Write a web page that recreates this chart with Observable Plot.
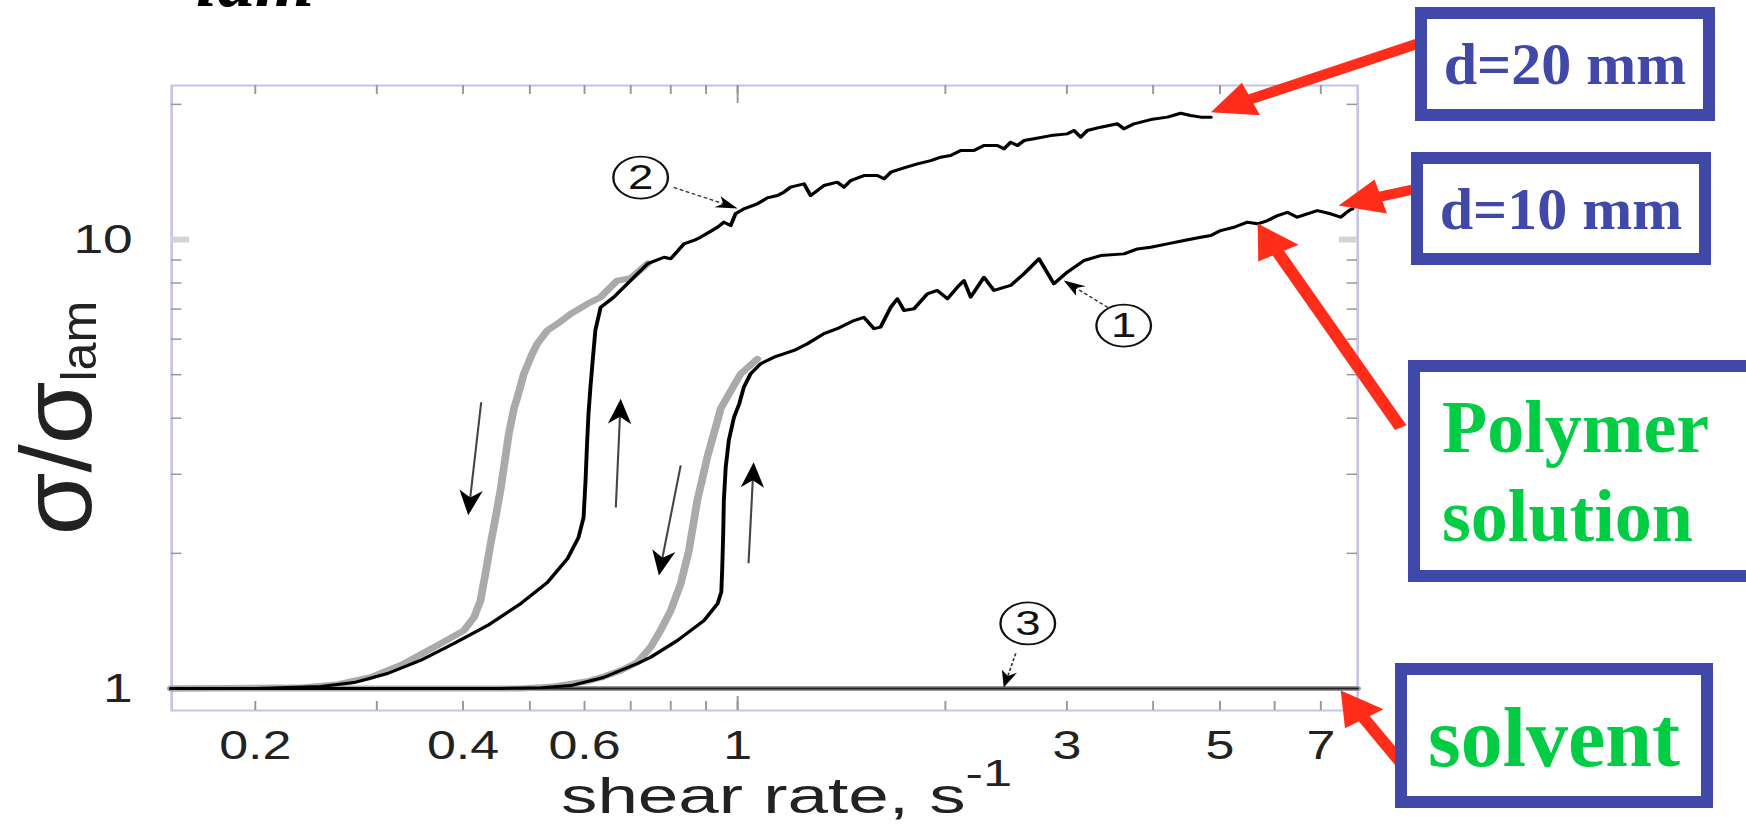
<!DOCTYPE html>
<html><head><meta charset="utf-8">
<script src="https://cdn.jsdelivr.net/npm/d3@7"></script>
<script src="https://cdn.jsdelivr.net/npm/@observablehq/plot@0.6"></script>
<style>
html,body{margin:0;padding:0;background:#fff;}
#wrap{position:relative;width:1746px;height:824px;overflow:hidden;background:#fff;}
#chart svg{display:block;}
.box{position:absolute;box-sizing:border-box;border:12px solid #4048a8;background:#fff;
 font-family:"Liberation Serif","Times New Roman",serif;font-weight:bold;white-space:nowrap;}
.blue{color:#4048a8;font-size:60px;line-height:60px;display:flex;align-items:center;justify-content:center;}
.green{color:#00cc44;}
#lam{position:absolute;left:196px;top:-58px;font:italic bold 76px/76px "Liberation Serif",serif;color:#000;}
</style></head><body>
<div id="wrap">
  <div id="chart"></div>
  <div id="lam">lam</div>
  <div class="box blue" style="left:1415px;top:7px;width:300px;height:114px;">d=20 mm</div>
  <div class="box blue" style="left:1411px;top:152px;width:300px;height:113px;">d=10 mm</div>
  <div class="box green" style="left:1408px;top:360px;width:370px;height:222px;padding:11px 0 0 22px;font-size:74px;line-height:89px;">Polymer<br>solution</div>
  <div class="box green" style="left:1395px;top:663px;width:318px;height:145px;padding:21px 0 0 21px;font-size:84px;line-height:84px;">solvent</div>
</div>
<script>
// ---------------- data ----------------
const xDomain = [0.1513, 7.915];
const yDomain = [0.8933, 22.03];
const xTicks = [0.2,0.3,0.4,0.5,0.6,0.7,0.8,0.9,1,2,3,4,5,6,7];
const xTickLabels = [0.2,0.4,0.6,1,3,5,7];
const yTicks = [2,3,4,5,6,7,8,9,20];
const yTickLabels = [1,10];

// curve 2 (d = 20 mm): increasing shear rate (black) and decreasing (gray)
const curve2Up = [[0.151,1.0],[0.20,1.0],[0.249,1.01],[0.278,1.031],[0.311,1.08],[0.347,1.155],[0.388,1.259],[0.434,1.381],[0.485,1.546],[0.530,1.722],[0.567,1.948],[0.588,2.169],[0.598,2.40],[0.602,2.90],[0.605,3.5],[0.608,4.10],[0.612,4.7],[0.616,5.29],[0.622,6.27],[0.633,7.06],[0.661,7.43],[0.700,8.11],[0.741,8.84],[0.782,9.13],[0.800,9.06],[0.836,9.78],[0.864,9.95],[0.884,10.12],[0.909,10.38],[0.935,10.65],[0.955,10.93],[0.977,10.74],[0.993,11.41],[1.021,11.70],[1.068,12.01],[1.104,12.38],[1.142,12.53],[1.167,12.75],[1.193,13.08],[1.248,13.30],[1.276,12.53],[1.305,12.86],[1.334,13.19],[1.394,13.42],[1.426,13.08],[1.458,13.53],[1.524,13.88],[1.594,13.88],[1.630,13.65],[1.667,14.12],[1.742,14.44],[1.822,14.74],[1.905,14.99],[1.969,15.25],[2.035,15.38],[2.105,15.78],[2.200,15.78],[2.275,16.19],[2.379,16.19],[2.432,15.92],[2.487,16.47],[2.543,16.19],[2.600,16.61],[2.688,16.76],[2.842,17.04],[3.005,17.19],[3.072,17.49],[3.141,16.90],[3.212,17.49],[3.358,17.79],[3.551,18.10],[3.630,17.64],[3.753,18.10],[3.968,18.5],[4.195,18.73],[4.385,19.11],[4.533,18.89],[4.69,18.73],[4.85,18.73]];
const curve2Down = [[0.741,8.84],[0.700,8.2],[0.669,8.10],[0.633,7.44],[0.606,7.19],[0.573,6.83],[0.548,6.49],[0.530,6.27],[0.5125,5.86],[0.504,5.57],[0.490,5.02],[0.4795,4.45],[0.474,4.2],[0.466,3.69],[0.4585,3.11],[0.453,2.75],[0.446,2.41],[0.4385,2.10],[0.431,1.80],[0.424,1.57],[0.415,1.441],[0.401,1.346],[0.367,1.247],[0.328,1.135],[0.294,1.060],[0.263,1.021],[0.235,1.007],[0.151,1.0]];

// curve 1 (d = 10 mm)
const curve1Up = [[0.151,1.0],[0.45,1.0],[0.52,1.004],[0.573,1.015],[0.639,1.058],[0.716,1.137],[0.748,1.174],[0.818,1.279],[0.894,1.417],[0.935,1.544],[0.947,1.639],[0.950,1.863],[0.953,2.21],[0.955,2.62],[0.961,3.11],[0.971,3.57],[0.988,4.02],[1.005,4.3],[1.021,4.69],[1.044,5.02],[1.080,5.29],[1.129,5.47],[1.207,5.66],[1.262,5.86],[1.334,6.17],[1.394,6.33],[1.474,6.60],[1.524,6.71],[1.576,6.33],[1.611,6.38],[1.667,7.07],[1.704,7.38],[1.742,6.95],[1.801,7.01],[1.883,7.57],[1.947,7.70],[2.014,7.38],[2.082,7.83],[2.128,8.10],[2.176,7.44],[2.275,8.24],[2.352,7.70],[2.487,7.90],[2.600,8.39],[2.734,9.06],[2.873,7.97],[3.005,8.46],[3.177,8.98],[3.358,9.21],[3.630,9.29],[3.796,9.53],[3.968,9.61],[4.195,9.78],[4.435,9.95],[4.69,10.12],[4.85,10.21],[5.01,10.47],[5.24,10.65],[5.48,10.93],[5.67,10.84],[5.86,11.02],[6.06,11.31],[6.26,11.50],[6.47,11.21],[6.69,11.41],[6.92,11.60],[7.23,11.41],[7.48,11.21],[7.69,11.60],[7.78,11.70]];
const curve1Down = [[1.068,5.42],[1.01,5.02],[0.966,4.46],[0.945,4.2],[0.935,3.95],[0.904,3.28],[0.874,2.62],[0.850,2.03],[0.827,1.711],[0.800,1.492],[0.773,1.346],[0.748,1.236],[0.716,1.144],[0.677,1.097],[0.640,1.063],[0.606,1.038],[0.542,1.010],[0.485,1.0],[0.151,1.0]];

// curve 3 (solvent)
const solvent = [[0.1513,1.0],[7.915,1.0]];

// circled curve numbers and their pointer arrows
const curveLabels = [{n:"2",x:0.7235,y:13.74},{n:"1",x:3.626,y:6.43},{n:"3",x:2.633,y:1.396}];
const labelArrows = [{x1:0.808,y1:13.06,x2:1.0,y2:11.73},{x1:3.438,y1:7.06,x2:2.969,y2:8.10},{x1:2.529,y1:1.197,x2:2.43,y2:1.005}];
// sweep-direction arrows
const sweepArrows = [{x1:0.425,y1:4.34,x2:0.407,y2:2.43},{x1:0.666,y1:2.53,x2:0.677,y2:4.42},{x1:0.827,y1:3.14,x2:0.769,y2:1.785},{x1:1.037,y1:1.90,x2:1.055,y2:3.19}];
// red call-out arrows (tail at the annotation box, head on the curve)
const calloutArrows = [{x1:9.67,y1:27.3,x2:4.85,y2:19.2},{x1:9.67,y1:12.99,x2:7.43,y2:11.9},{x1:9.14,y1:3.81,x2:5.67,y2:10.85},{x1:9.14,y1:0.684,x2:7.48,y2:0.99}];

// ---------------- layout ----------------
const S = 1.3;              // horizontal stretch of the original figure
const W = 1746, H = 824;
const VBW = W / S;
const mL = 171 / S, mR = VBW - 1357 / S, mT = 85, mB = H - 710;
const frameW = VBW - mL - mR, frameH = H - mT - mB;
const RED = "#ff2d1a";
const xs = d3.scaleLog().domain(xDomain).range([mL, VBW - mR]);
const ys = d3.scaleLog().domain(yDomain).range([H - mB, mT]);

function withAngles(arr, pull) {
  return arr.map(d => {
    const ax = xs(d.x1), ay = ys(d.y1), bx = xs(d.x2), by = ys(d.y2);
    const a = Math.atan2(by - ay, bx - ax);
    const ex = bx - Math.cos(a) * pull, ey = by - Math.sin(a) * pull;
    return {...d, angle: a * 180 / Math.PI, sx: xs.invert(ex), sy: ys.invert(ey)};
  });
}
const red = withAngles(calloutArrows, 24);
const sweep = withAngles(sweepArrows, 10);
const lab = withAngles(labelArrows, 8);

const headRed = {draw(c, size){const r=Math.sqrt(size/Math.PI); c.moveTo(0,0); c.lineTo(-2.1*r,-1.1*r); c.lineTo(-2.1*r,1.1*r); c.closePath();}};
const headBarb = {draw(c, size){const r=Math.sqrt(size/Math.PI); c.moveTo(0,0); c.lineTo(-2.8*r,-r); c.lineTo(-2.0*r,0); c.lineTo(-2.8*r,r); c.closePath();}};

const X = d => d[0], Y = d => d[1];
const chart = Plot.plot({
  width: VBW, height: H,
  marginLeft: mL, marginRight: mR, marginTop: mT, marginBottom: mB,
  x: {type: "log", domain: xDomain, axis: null},
  y: {type: "log", domain: yDomain, axis: null},
  style: {fontFamily: "'Liberation Sans', Arial, sans-serif", color: "#222", background: "transparent"},
  marks: [
    Plot.frame({stroke: "#c3c3ee", strokeWidth: 2}),
    // inward tick marks on all four sides
    Plot.ruleX(xTicks, {x: d => d, insetTop: frameH - 9, stroke: "#999", strokeWidth: 1.5}),
    Plot.ruleX([1], {x: d => d, insetTop: frameH - 14, stroke: "#999", strokeWidth: 1.5}),
    Plot.ruleX(xTicks, {x: d => d, insetBottom: frameH - 9, stroke: "#999", strokeWidth: 1.5}),
    Plot.ruleX([1], {x: d => d, insetBottom: frameH - 18, stroke: "#999", strokeWidth: 1.5}),
    Plot.ruleY(yTicks, {y: d => d, insetRight: frameW - 8, stroke: "#999", strokeWidth: 1.5}),
    Plot.ruleY(yTicks, {y: d => d, insetLeft: frameW - 8, stroke: "#999", strokeWidth: 1.5}),
    Plot.ruleY([10], {y: d => d, insetRight: frameW - 14, stroke: "#d4d4d4", strokeWidth: 6}),
    Plot.ruleY([10], {y: d => d, insetLeft: frameW - 14, stroke: "#d4d4d4", strokeWidth: 6}),
    // tick labels
    Plot.text(xTickLabels, {x: d => d, frameAnchor: "bottom", lineAnchor: "top", dy: 20, text: d => String(d), fontSize: 40, fill: "#222"}),
    Plot.text(yTickLabels, {y: d => d, frameAnchor: "left", textAnchor: "end", dx: -30, text: d => String(d), fontSize: 41, fill: "#222"}),
    // data
    Plot.line(solvent, {x: X, y: Y, stroke: "#9a9a9a", strokeWidth: 5}),
    Plot.line(curve2Down, {x: X, y: Y, stroke: "#aaaaaa", strokeWidth: 6, strokeLinejoin: "round"}),
    Plot.line(curve1Down, {x: X, y: Y, stroke: "#aaaaaa", strokeWidth: 6, strokeLinejoin: "round"}),
    Plot.line(solvent, {x: X, y: Y, stroke: "#222", strokeWidth: 2}),
    Plot.line(curve2Up, {x: X, y: Y, stroke: "#000", strokeWidth: 3, strokeLinejoin: "round"}),
    Plot.line(curve1Up, {x: X, y: Y, stroke: "#000", strokeWidth: 3, strokeLinejoin: "round"}),
    // sweep direction arrows
    Plot.link(sweep, {x1: "x1", y1: "y1", x2: "sx", y2: "sy", stroke: "#444", strokeWidth: 1.6}),
    Plot.dot(sweep, {x: "x2", y: "y2", r: 9, symbol: headBarb, fill: "#000", stroke: "none", rotate: "angle"}),
    // circled curve numbers
    Plot.link(lab, {x1: "x1", y1: "y1", x2: "sx", y2: "sy", stroke: "#333", strokeWidth: 1.3, strokeDasharray: "3,2"}),
    Plot.dot(lab, {x: "x2", y: "y2", r: 6, symbol: headBarb, fill: "#000", stroke: "none", rotate: "angle"}),
    Plot.dot(curveLabels, {x: "x", y: "y", r: 21, stroke: "#111", strokeWidth: 1.8, fill: "none"}),
    Plot.text(curveLabels, {x: "x", y: "y", text: "n", fontSize: 35, fill: "#111"}),
    // red call-out arrows
    Plot.link(red, {x1: "x1", y1: "y1", x2: "sx", y2: "sy", stroke: RED, strokeWidth: 10}),
    Plot.dot(red, {x: "x2", y: "y2", r: 16, symbol: headRed, fill: RED, stroke: "none", rotate: "angle"})
  ]
});

chart.setAttribute("width", W);
chart.setAttribute("height", H);
chart.setAttribute("preserveAspectRatio", "none");
chart.style.width = W + "px";
chart.style.height = H + "px";
chart.style.maxWidth = "none";
chart.style.overflow = "visible";

const svg = d3.select(chart);
// y axis label: sigma / sigma_lam
const yl = svg.append("text")
  .attr("transform", `translate(${70},${418}) rotate(-90) scale(1.32,1)`)
  .attr("text-anchor", "middle")
  .attr("font-family", "'Liberation Sans', Arial, sans-serif")
  .attr("font-size", 77).attr("fill", "#222");
yl.append("tspan").text("σ/σ");
yl.append("tspan").attr("font-size", 38).attr("dy", 4).text("lam");
// x axis label: shear rate, s^-1
const xl = svg.append("text")
  .attr("transform", `translate(${561 / S},${813}) scale(1.12,1)`)
  .attr("text-anchor", "start")
  .attr("font-family", "'Liberation Sans', Arial, sans-serif")
  .attr("font-size", 50).attr("fill", "#222");
xl.append("tspan").text("shear rate, s");
xl.append("tspan").attr("font-size", 36).attr("dy", -27).text("-1");

document.getElementById("chart").appendChild(chart);
</script>
</body></html>
